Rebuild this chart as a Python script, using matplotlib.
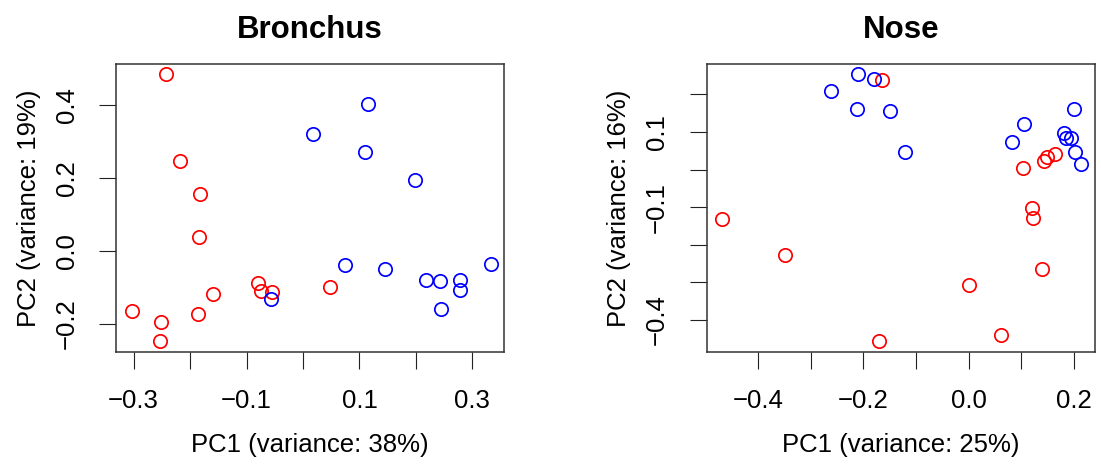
# PCA de bronquio y nariz, dos paneles lado a lado con circulos abiertos.
import matplotlib
matplotlib.use("Agg")
import matplotlib.pyplot as plt

plt.rcParams['font.family'] = ['Liberation Sans', 'DejaVu Sans']

#-----------------------------------------------
# Datos
#-----------------------------------------------

# Bronquio, grupo rojo
bronquio_rojo_x = [-0.243, -0.217, -0.183, -0.185, -0.160, -0.186, -0.303, -0.252, -0.253, -0.080, -0.075, -0.054, 0.048]
bronquio_rojo_y = [0.485, 0.245, 0.155, 0.037, -0.117, -0.173, -0.164, -0.196, -0.247, -0.088, -0.109, -0.114, -0.098]

# Bronquio, grupo azul
bronquio_azul_x = [0.116, 0.018, 0.109, 0.199, 0.074, 0.145, 0.217, 0.243, 0.278, 0.278, 0.245, 0.333, -0.057]
bronquio_azul_y = [0.403, 0.320, 0.272, 0.195, -0.039, -0.049, -0.080, -0.082, -0.079, -0.108, -0.160, -0.035, -0.132]

# Nariz, grupo azul
nariz_azul_x = [-0.209, -0.179, -0.261, -0.211, -0.149, -0.121, 0.106, 0.083, 0.200, 0.181, 0.185, 0.195, 0.202, 0.213]
nariz_azul_y = [0.254, 0.241, 0.208, 0.161, 0.157, 0.047, 0.122, 0.074, 0.161, 0.097, 0.085, 0.083, 0.047, 0.015]

# Nariz, grupo rojo
nariz_rojo_x = [-0.164, -0.468, -0.348, -0.171, 0.000, 0.061, 0.140, 0.121, 0.123, 0.104, 0.144, 0.149, 0.164]
nariz_rojo_y = [0.239, -0.130, -0.226, -0.456, -0.307, -0.441, -0.265, -0.103, -0.128, 0.004, 0.022, 0.033, 0.041]

# Titulos y etiquetas
titulos = ['Bronchus', 'Nose']
etiquetas_x = ['PC1 (variance: 38%)', 'PC1 (variance: 25%)']
etiquetas_y = ['PC2 (variance: 19%)', 'PC2 (variance: 16%)']

# Marcas de los ejes (estilo R: algunas etiquetas se omiten)
bronquio_ticks_x = [-0.3, -0.2, -0.1, 0.0, 0.1, 0.2, 0.3]
bronquio_labels_x = ['\u22120.3', '', '\u22120.1', '', '0.1', '', '0.3']
bronquio_ticks_y = [-0.2, 0.0, 0.2, 0.4]
bronquio_labels_y = ['\u22120.2', '0.0', '0.2', '0.4']

nariz_ticks_x = [-0.4, -0.3, -0.2, -0.1, 0.0, 0.1, 0.2]
nariz_labels_x = ['\u22120.4', '', '\u22120.2', '', '0.0', '', '0.2']
nariz_ticks_y = [-0.4, -0.3, -0.2, -0.1, 0.0, 0.1, 0.2]
nariz_labels_y = ['\u22120.4', '', '', '\u22120.1', '', '0.1', '']

rojo = '#FF0000'
azul = '#0000FF'

fig = plt.figure(figsize=(11.01, 4.68), dpi=100)
ax1 = fig.add_axes([0.1054, 0.2479, 0.3524, 0.6154])
ax2 = fig.add_axes([0.6419, 0.2479, 0.3527, 0.6154])


def dibujar(ax, rx, ry, bx, by, titulo, xl, yl, tx, lx, ty, ly, xlim, ylim):
    ax.plot(rx, ry, 'o', mfc='none', mec=rojo, ms=9.6, mew=1.25, ls='none')
    ax.plot(bx, by, 'o', mfc='none', mec=azul, ms=9.6, mew=1.25, ls='none')
    ax.set_xlim(xlim)
    ax.set_ylim(ylim)
    ax.set_xticks(tx)
    ax.set_xticklabels(lx)
    ax.set_yticks(ty)
    ax.set_yticklabels(ly, rotation=90, va='center')
    ax.tick_params(length=12, width=0.8, color='#222222', labelsize=18.5, pad=15)
    for s in ax.spines.values():
        s.set_color('#333333')
        s.set_linewidth(1.1)
    ax.set_title(titulo, fontsize=22.5, fontweight='bold', pad=19)
    ax.set_xlabel(xl, fontsize=18.5, labelpad=14)
    ax.set_ylabel(yl, fontsize=18.5, labelpad=10)


dibujar(ax1, bronquio_rojo_x, bronquio_rojo_y, bronquio_azul_x, bronquio_azul_y,
        titulos[0], etiquetas_x[0], etiquetas_y[0],
        bronquio_ticks_x, bronquio_labels_x, bronquio_ticks_y, bronquio_labels_y,
        (-0.331, 0.356), (-0.277, 0.512))

dibujar(ax2, nariz_rojo_x, nariz_rojo_y, nariz_azul_x, nariz_azul_y,
        titulos[1], etiquetas_x[1], etiquetas_y[1],
        nariz_ticks_x, nariz_labels_x, nariz_ticks_y, nariz_labels_y,
        (-0.497, 0.240), (-0.485, 0.281))

plt.savefig('out.png', dpi=100)
